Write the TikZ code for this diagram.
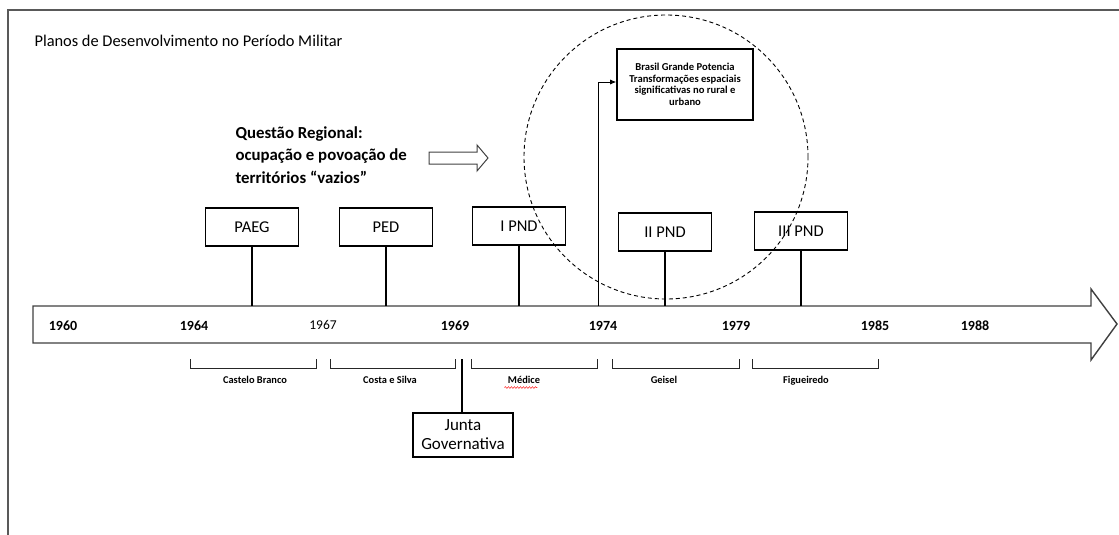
\documentclass[tikz,border=0pt]{standalone}
\usepackage{fontspec}
\setmainfont{Carlito}
\usetikzlibrary{arrows.meta,decorations.pathmorphing}
\begin{document}
\begin{tikzpicture}[x=1pt,y=-1pt,
  plan/.style={draw=black,line width=1.6pt,minimum width=93pt,minimum height=38pt,inner sep=0pt,font=\fontsize{16.5}{18}\selectfont},
  stem/.style={line width=1.6pt},
  year/.style={anchor=base,font=\bfseries\fontsize{14}{16}\selectfont},
  brk/.style={line width=0.9pt,draw=black!85},
  gov/.style={anchor=base,font=\bfseries\fontsize{10.4}{12}\selectfont}]
\useasboundingbox (0,0) rectangle (1119,535);

% frame
\draw[line width=1.6pt,draw=black!65] (1119,10) -- (8,10) -- (8,535);

% title
\node[anchor=base west,font=\fontsize{16.4}{18}\selectfont] (title) at (31,47) {Planos de Desenvolvimento no Período Militar};

% timeline arrow
\draw[line width=1.4pt,draw=black!75,fill=white] (33,306) -- (1091,306) -- (1091,289) -- (1117,324) -- (1091,360) -- (1091,343) -- (33,343) -- cycle;
\foreach \yr/\xx in {1960/63,1964/194,1969/455,1974/603,1979/736,1985/875,1988/975}
  \node[year] (y\yr) at (\xx,330) {\yr};
\node[anchor=base,font=\fontsize{13.5}{15}\selectfont] (y1967) at (323,329) {1967};

% regional question
\node[anchor=north west,align=left,font=\bfseries\fontsize{16.8}{22.5}\selectfont] (reg) at (232,123)
  {Questão Regional:\\ocupação e povoação de\\territórios “vazios”};
\draw[line width=1pt,draw=black!75] (429,152) -- (477,152) -- (477,145) -- (488,158) -- (477,171) -- (477,164) -- (429,164) -- cycle;

% dashed circle
\draw[dashed,line width=0.9pt,dash pattern=on 4pt off 3pt] (666,157) circle[radius=142pt];

% plans
\node[plan] (paeg) at (252,227) {PAEG};
\node[plan] (ped)  at (386,227) {PED};
\node[plan] (ipnd) at (519,226) {I PND};
\node[plan] (iipnd) at (665,232) {II PND};
\node[plan] (iiipnd) at (801,231) {III PND};
\foreach \n/\xx in {paeg/252,ped/386,ipnd/519,iipnd/665,iiipnd/801}{
  \coordinate (t\n) at (\xx,306);
  \draw[stem] (\n.south) -- (t\n);
}

% big-power box
\node[draw=black,line width=1.6pt,minimum width=136pt,minimum height=71pt,align=center,
  font=\bfseries\fontsize{10.6}{11.6}\selectfont] (bgp) at (685,84.5)
  {Brasil Grande Potencia\\Transformações espaciais\\significativas no rural e\\urbano};
\coordinate (t1974) at (598,306);
\draw[line width=0.8pt,-{Latex[length=6pt,width=5pt]}] (t1974) |- (bgp.west |- 0,82);

% government brackets
\foreach \a/\b in {190/316,330/455,471/597,612/739,752/878}
  \draw[brk] (\a,359) |- (\b,368) -- (\b,359);
\node[gov] (lcb) at (255,383.5) {Castelo Branco};
\node[gov] (lcs) at (390,383.5) {Costa e Silva};
\node[gov] (lmd) at (524,383.5) {Médice};
\node[gov] (lgs) at (664,383.5) {Geisel};
\node[gov] (lfg) at (806,383.5) {Figueiredo};
\draw[red,line width=0.5pt,decorate,decoration={snake,amplitude=0.8pt,segment length=3pt}] (lmd.base west) ++(0,4) -- ++(33,0);

% junta
\node[draw=black,line width=1.6pt,minimum width=100pt,minimum height=44pt,align=center,inner sep=0pt,
  font=\fontsize{17}{19}\selectfont] (junta) at (463,435) {Junta\\Governativa};
\coordinate (tj) at (462,359);
\draw[stem] (tj) -- (junta.north -| tj);
\end{tikzpicture}
\end{document}
